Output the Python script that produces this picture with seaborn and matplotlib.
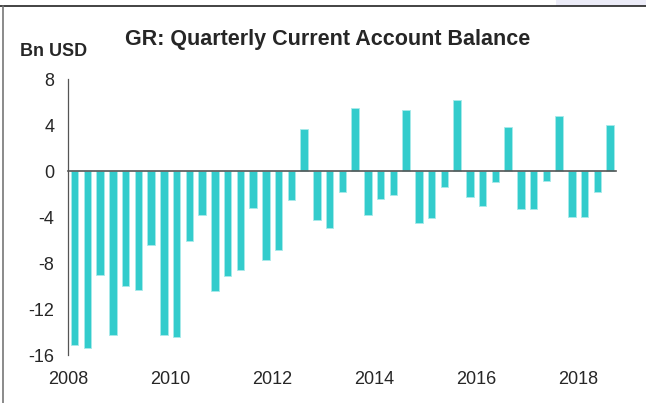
import seaborn as sns
import pandas as pd
import matplotlib.pyplot as plt
from matplotlib.lines import Line2D
from matplotlib.patches import Rectangle

# quarterly current account balance, Bn USD, 2008Q1 - 2018Q3
quarters = [str(p) for p in pd.period_range('2008Q1', '2018Q3', freq='Q')]
balance = [-15.1, -15.4, -9.0, -14.2, -10.0, -10.3, -6.4, -14.2,
           -14.4, -6.1, -3.8, -10.4, -9.1, -8.6, -3.2, -7.7,
           -6.8, -2.5, 3.7, -4.2, -4.9, -1.8, 5.5, -3.8,
           -2.4, -2.1, 5.3, -4.5, -4.1, -1.4, 6.2, -2.2,
           -3.0, -0.9, 3.9, -3.3, -3.3, -0.8, 4.8, -4.0,
           -4.0, -1.8, 4.0]
years = list(range(2008, 2019))

df = pd.DataFrame({'quarter': quarters, 'balance': balance})

sns.set_style('white')
plt.rcParams['font.family'] = ['Liberation Sans', 'DejaVu Sans']
plt.rcParams['axes.unicode_minus'] = False

fig = plt.figure(figsize=(6.46, 4.03), dpi=100)
ax = fig.add_axes([0.1057, 0.1184, 0.8486, 0.6846])

sns.barplot(data=df, x='quarter', y='balance', color='#33CCCC',
            saturation=1, width=0.58, edgecolor='#a8eaea', linewidth=0.6, ax=ax)

ax.set_ylim(-16, 8)
ax.set_xlim(-0.5, len(quarters) - 0.5)
ax.set_yticks([-16, -12, -8, -4, 0, 4, 8])
ax.set_xlabel('')
ax.set_ylabel('')

# zero line acts as x axis with yearly ticks
ax.spines['top'].set_visible(False)
ax.spines['right'].set_visible(False)
ax.spines['bottom'].set_position(('data', 0))
ax.spines['bottom'].set_color('#555555')
ax.spines['bottom'].set_linewidth(1.2)
ax.spines['left'].set_color('#555555')
ax.spines['left'].set_linewidth(0.9)
year_pos = [(y - 2008) * 4 - 0.5 for y in years]
ax.set_xticks(year_pos)
ax.tick_params(axis='x', direction='out', length=5, width=1, color='#222222',
               labelbottom=False)
ax.tick_params(axis='y', direction='out', length=5, width=0.9, color='#555555',
               labelsize=13, pad=5)

# year labels at the bottom
sec = ax.secondary_xaxis('bottom')
sec.set_xticks(year_pos[::2], [str(y) for y in years[::2]])
sec.spines['bottom'].set_visible(False)
sec.tick_params(length=0, labelsize=13, pad=11)

fig.text(0.507, 0.903, 'GR: Quarterly Current Account Balance', ha='center',
         va='center', fontsize=15.5, fontweight='bold')
fig.text(0.031, 0.873, 'Bn USD', ha='left', va='center', fontsize=13,
         fontweight='bold')

# frame of the slide
fig.add_artist(Rectangle((0.86, 0.985), 0.14, 0.015, transform=fig.transFigure,
                         color='#ececf8', lw=0))
fig.add_artist(Line2D([0, 1], [0.985, 0.985], transform=fig.transFigure,
                      color='#222222', lw=1.2))
fig.add_artist(Line2D([0.004, 0.004], [0, 0.985], transform=fig.transFigure,
                      color='#777777', lw=1.2))

fig.savefig('out.png', dpi=100)
